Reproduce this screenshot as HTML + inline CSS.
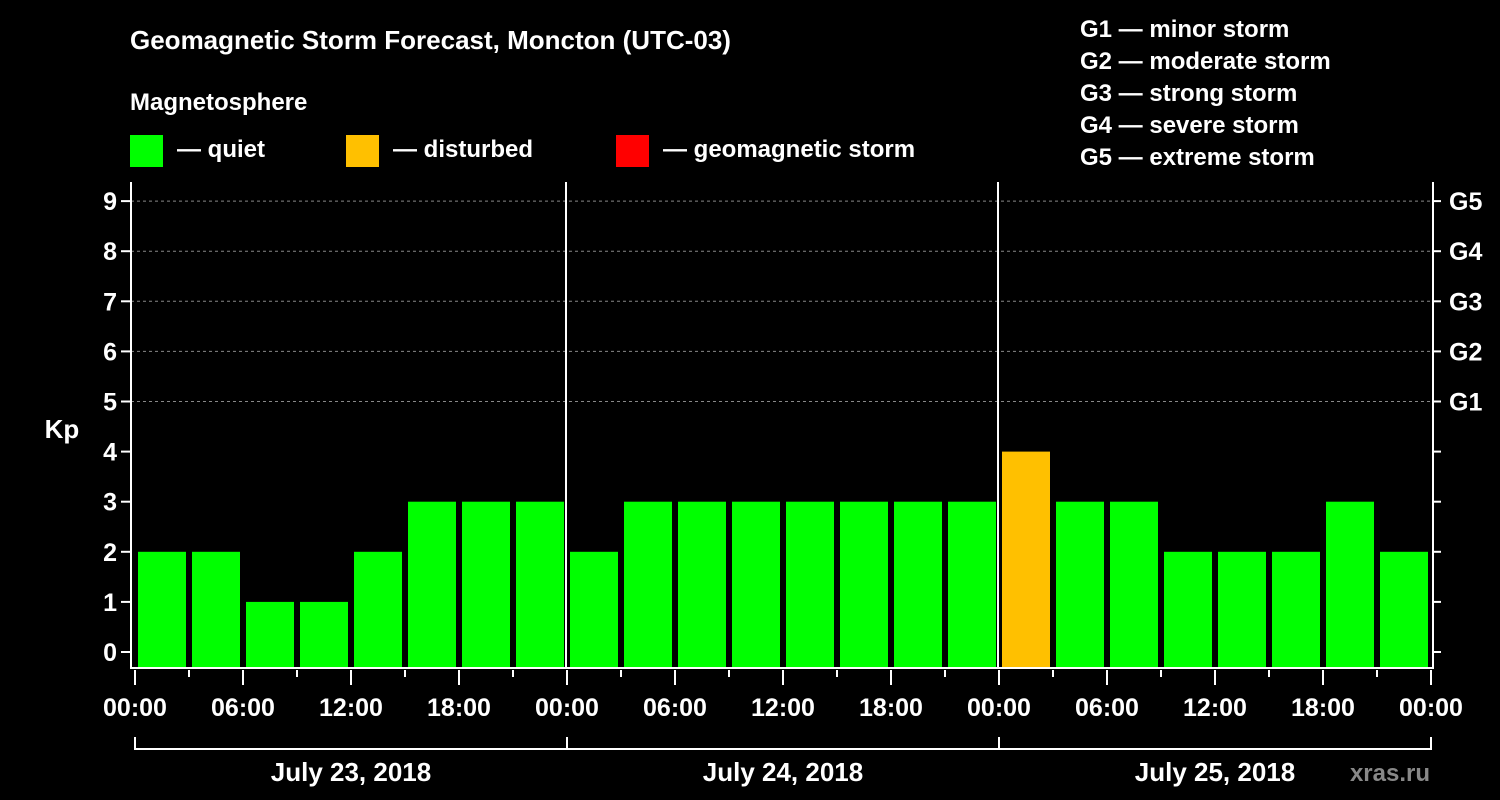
<!DOCTYPE html>
<html><head><meta charset="utf-8"><style>
html,body{margin:0;padding:0;background:#000;}
svg{display:block;font-family:"Liberation Sans",Arial,sans-serif;font-weight:bold;}
</style></head><body>
<svg id="c" width="1500" height="800" viewBox="0 0 1500 800">
<text x="130" y="49" fill="#fff" font-size="26">Geomagnetic Storm Forecast, Moncton (UTC-03)</text>
<text x="130" y="110" fill="#fff" font-size="24">Magnetosphere</text>
<g><rect x="130" y="135" width="33" height="32" fill="#00ff00"/><text x="177" y="157" fill="#fff" font-size="24">— quiet</text></g>
<g><rect x="346" y="135" width="33" height="32" fill="#ffc000"/><text x="393" y="157" fill="#fff" font-size="24">— disturbed</text></g>
<g><rect x="616" y="135" width="33" height="32" fill="#ff0000"/><text x="663" y="157" fill="#fff" font-size="24">— geomagnetic storm</text></g>
<g fill="#fff" font-size="24">
<text x="1080" y="37">G1 — minor storm</text>
<text x="1080" y="69">G2 — moderate storm</text>
<text x="1080" y="101">G3 — strong storm</text>
<text x="1080" y="133">G4 — severe storm</text>
<text x="1080" y="165">G5 — extreme storm</text>
</g>
<text x="62" y="438" fill="#fff" font-size="26" text-anchor="middle">Kp</text>
<text x="1430" y="781" fill="#888" font-size="24" text-anchor="end">xras.ru</text>
<g id="plot"></g>
</svg>
<script>
const days = ["July 23, 2018","July 24, 2018","July 25, 2018"];
const kpValues = [2,2,1,1,2,3,3,3, 2,3,3,3,3,3,3,3, 4,3,3,2,2,2,3,2];
const yTicks = [0,1,2,3,4,5,6,7,8,9];
const gLabels = ["G1","G2","G3","G4","G5"];
const hourLabels = ["00:00","06:00","12:00","18:00"];

const NS="http://www.w3.org/2000/svg";
const g=document.getElementById('plot');
const X0=135, DAYW=432, L=131, R=1433, TOP=182, BOT=668;
const slots=kpValues.length, slotW=(DAYW*days.length)/slots;
const xAt=i=>X0+i*slotW;
const yAt=v=>652-v*50.1;
function mk(t,a){const e=document.createElementNS(NS,t);for(const k in a)e.setAttribute(k,a[k]);g.appendChild(e);return e;}
// grid
yTicks.forEach(v=>{
  if(v>=5){const l=mk('line',{x1:L,x2:R,y1:yAt(v),y2:yAt(v),stroke:'#888','stroke-dasharray':'3,3','stroke-width':1});
  
  }
  const t=mk('line',{x1:L-10,x2:L,y1:yAt(v),y2:yAt(v),stroke:'#fff','stroke-width':2});
  
  
  const t2=mk('line',{x1:R,x2:R+8,y1:yAt(v),y2:yAt(v),stroke:'#fff','stroke-width':2});
  
  
  const lb=mk('text',{x:L-14,y:yAt(v)+9,fill:'#fff','font-size':25,'text-anchor':'end'});
  lb.textContent=v;
  
  
});
gLabels.forEach((s,i)=>{
  const lb=mk('text',{x:R+16,y:yAt(5+i)+9,fill:'#fff','font-size':25});
  lb.textContent=s;
  
  
});
// bars
kpValues.forEach((v,i)=>{
  const col=v>=5?'#ff0000':(v>=4?'#ffc000':'#00ff00');
  const r=mk('rect',{x:xAt(i)+3,y:yAt(v),width:slotW-6,height:BOT-yAt(v),fill:col});
  
  
});
// axes
const ax=mk('path',{d:`M${L},${TOP}V${BOT}H${R}V${TOP}`,stroke:'#fff','stroke-width':2,fill:'none'});


for(let d=1;d<days.length;d++){
  const l=mk('line',{x1:X0+d*DAYW-1,x2:X0+d*DAYW-1,y1:TOP,y2:BOT,stroke:'#fff','stroke-width':2});
  
  
}
// x ticks
for(let i=0;i<=slots;i++){
  const major=i%2===0;
  const x=xAt(i);
  const t=mk('line',{x1:x,x2:x,y1:BOT+2,y2:major?685:677,stroke:'#fff','stroke-width':2});
  
  
  if(major){
    const lb=mk('text',{x:x,y:716,fill:'#fff','font-size':25,'text-anchor':'middle'});
    lb.textContent=hourLabels[(i/2)%4];
    
    
  }
}
// day brackets
days.forEach((d,i)=>{
  const x1=X0+i*DAYW, x2=x1+DAYW;
  const p=mk('path',{d:`M${x1},737V749H${x2}V737`,stroke:'#fff','stroke-width':2,fill:'none'});
  
  
  const lb=mk('text',{x:(x1+x2)/2,y:781,fill:'#fff','font-size':26,'text-anchor':'middle'});
  lb.textContent=d;
  
  
});
</script>
</body></html>
